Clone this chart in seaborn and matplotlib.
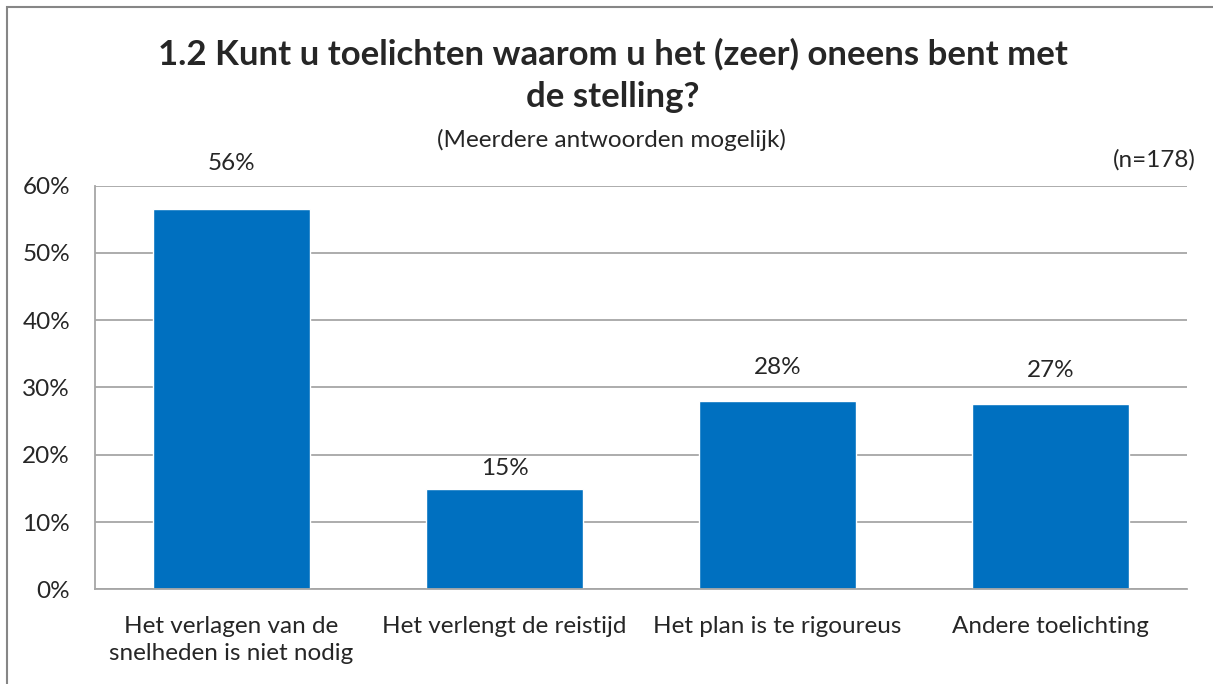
import matplotlib
matplotlib.use("Agg")
import matplotlib.pyplot as plt
import seaborn as sns
import pandas as pd
from matplotlib.patches import Rectangle

# --- Data ---
categories = [
    "Het verlagen van de\nsnelheden is niet nodig",
    "Het verlengt de reistijd",
    "Het plan is te rigoureus",
    "Andere toelichting",
]
percentages = [56.5, 14.9, 28.0, 27.5]
value_labels = ["56%", "15%", "28%", "27%"]
y_ticks = [0, 10, 20, 30, 40, 50, 60]

title = "1.2 Kunt u toelichten waarom u het (zeer) oneens bent met\nde stelling?"
subtitle = "(Meerdere antwoorden mogelijk)"
n_note = "(n=178)"

df = pd.DataFrame({"cat": categories, "pct": percentages})

# --- Styling ---
sns.set_style("white")
plt.rcParams["font.family"] = ["Lato", "DejaVu Sans"]
bar_color = "#0070C0"
grid_color = "#A6A6A6"
fs = 17.5

fig = plt.figure(figsize=(12.13, 6.84), dpi=100)
ax = fig.add_axes([0.0783, 0.1385, 0.9003, 0.59])

sns.barplot(data=df, x="cat", y="pct", color=bar_color, width=0.578,
            saturation=1, ax=ax)

ax.set_ylim(0, 60)
ax.set_xlim(-0.5, 3.5)
ax.set_yticks(y_ticks)
ax.set_yticklabels([f"{t}%" for t in y_ticks], fontsize=fs)
ax.set_xticks(range(len(categories)))
ax.set_xticklabels(categories, fontsize=fs, linespacing=1.4)
ax.set_xticks([-0.5, 0.5, 1.5, 2.5, 3.5], minor=True)
ax.tick_params(axis="x", which="major", length=0, pad=19)
ax.tick_params(axis="x", which="minor", length=8, color=grid_color, width=1.3, direction="out")
ax.tick_params(axis="y", length=8, color=grid_color, width=1.3, direction="out", pad=10)
ax.set_xlabel("")
ax.set_ylabel("")

ax.yaxis.grid(True, color=grid_color, linewidth=1.3)
ax.set_axisbelow(True)
for side in ["top", "right"]:
    ax.spines[side].set_visible(False)
for side in ["left", "bottom"]:
    ax.spines[side].set_color(grid_color)
    ax.spines[side].set_linewidth(1.3)

# data labels above bars
label_pad = [33, 15, 24, 24.5]
for patch, lab, pad in zip(ax.patches, value_labels, label_pad):
    ax.annotate(lab, (patch.get_x() + patch.get_width() / 2, patch.get_height()),
                xytext=(0, pad), textcoords="offset points", ha="center",
                va="center", fontsize=fs, annotation_clip=False)

# titles
fig.text(0.505, 0.889, title, ha="center", va="center", fontsize=25,
         fontweight="bold", linespacing=1.4)
fig.text(0.504, 0.795, subtitle, ha="center", va="center", fontsize=fs)
fig.text(0.986, 0.766, n_note, ha="right", va="center", fontsize=fs)

# outer chart border
fig.patches.append(Rectangle((7 / 1213, -0.1), 1.2, 1.1 - 7 / 684,
                             transform=fig.transFigure, fill=False,
                             edgecolor="#868686", linewidth=1.5))

fig.savefig("out.png", dpi=100)
